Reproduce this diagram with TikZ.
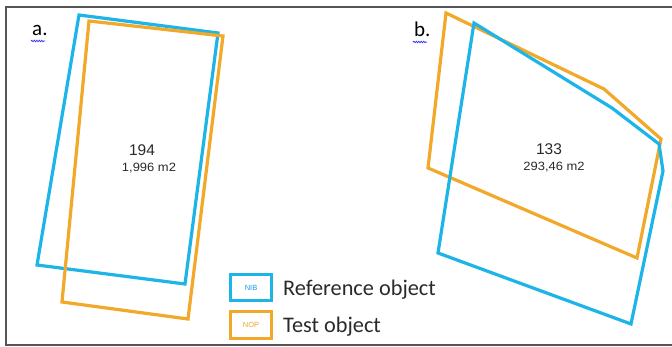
\documentclass[tikz,border=0pt]{standalone}
\usepackage{fontspec}
\setmainfont{Carlito}
\newfontfamily\arialf{Liberation Sans}
\usetikzlibrary{decorations.pathmorphing}
\definecolor{refblue}{HTML}{1DB5E8}
\definecolor{testorange}{HTML}{F2A828}
\definecolor{framegray}{HTML}{555555}
\definecolor{txtgray}{HTML}{2A2A2A}
\tikzset{
  refline/.style={draw=refblue,line width=3.2pt,line join=miter},
  testline/.style={draw=testorange,line width=3.2pt,line join=miter},
  idlabel/.style={font=\arialf\fontsize{15.5}{17}\selectfont,text=txtgray,inner sep=0pt},
  arealabel/.style={font=\arialf\fontsize{12}{13}\selectfont,text=txtgray,inner sep=0pt,xscale=1.08},
  panellabel/.style={font=\fontsize{21}{24}\selectfont,anchor=base west,inner sep=0pt},
  legtext/.style={font=\fontsize{22.3}{24}\selectfont,text=txtgray,anchor=base west,inner sep=0pt},
  legbox/.style={minimum width=41pt,minimum height=26pt,inner sep=0pt,line width=3pt,font=\arialf\fontsize{7.5}{8}\selectfont},
  spellmark/.style={draw=blue!80!white,line width=0.8pt,decorate,decoration={snake,amplitude=0.7pt,segment length=2.5pt}}
}
\begin{document}
\begin{tikzpicture}[x=1pt,y=-1pt]
\useasboundingbox (0,0) rectangle (672,347);
\fill[white] (0,0) rectangle (672,347);
% frame
\draw[framegray,line width=1.5pt] (672,7) -- (6,7) -- (6,345) -- (672,345);

% panel a
\draw[refline] (79,15) -- (218,33) -- (185,284) -- (37,265) -- cycle;
\draw[testline] (89,21) -- (223,36) -- (188,319) -- (62,302) -- cycle;
\node[panellabel] (la) at (32,36) {a.};
\draw[spellmark] (31,41) -- (45,41);
\node[idlabel] (ida) at (142,150) {194};
\node[arealabel] (ara) at (149,168) {1,996 m2};

% panel b
\draw[testline] (446,13) -- (604,89) -- (661,139) -- (637,258) -- (428,168) -- cycle;
\draw[refline] (474,23) -- (612,108) -- (659,144) -- (663,171) -- (631,324) -- (438,253) -- cycle;
\node[panellabel] (lb) at (414,37) {b.};
\draw[spellmark] (413,42) -- (427,42);
\node[idlabel] (idb) at (549,149) {133};
\node[arealabel] (arb) at (554,167) {293,46 m2};

% legend
\node[legbox,draw=refblue,text=refblue!85!blue] (nib) at (251,287.5) {NIB};
\node[legbox,draw=testorange,text=testorange] (nop) at (251,325) {NOP};
\node[legtext] (tref) at (283,296) {Reference object};
\node[legtext] (ttest) at (283,333) {Test object};
\end{tikzpicture}
\end{document}
